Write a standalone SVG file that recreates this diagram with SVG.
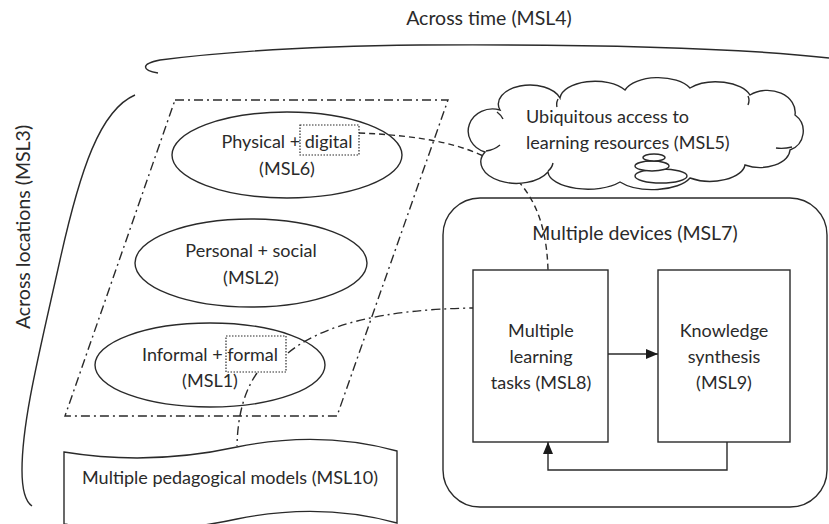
<svg xmlns="http://www.w3.org/2000/svg" width="829" height="524" viewBox="0 0 829 524">
<style>
text{font-family:Lato,"Open Sans","Liberation Sans",sans-serif;font-size:18px;fill:#2a2a2a}
.s{fill:none;stroke:#2a2a2a;stroke-width:1.4}
.w{fill:#fff;stroke:#2a2a2a;stroke-width:1.4}
.dd{fill:none;stroke:#2a2a2a;stroke-width:1.4;stroke-dasharray:9 4 2 4}
.da{fill:none;stroke:#2a2a2a;stroke-width:1.4;stroke-dasharray:6 4}
.dot{fill:none;stroke:#2a2a2a;stroke-width:1.2;stroke-dasharray:1.5 1.5}
</style>
<defs>
<marker id="ah" viewBox="0 0 12 10" refX="12" refY="5" markerWidth="12" markerHeight="10" markerUnits="userSpaceOnUse" orient="auto">
<path d="M0,0 L12,5 L0,10 Z" fill="#1a1a1a"/>
</marker>
</defs>

<g id="across-time">
<path class="s" d="M158,73 C142,70 140,64 160,60 C230,51 320,46 420,45 C600,44 740,48 829,58"/>
<text x="489" y="25" text-anchor="middle" style="font-size:19.5px">Across time (MSL4)</text>
</g>

<g id="across-locations">
<path class="s" d="M135,95 C100,110 80,170 60,260 C40,350 22,420 22,470 C22,492 26,502 32,506"/>
<text transform="translate(30,227) rotate(-90)" text-anchor="middle" style="font-size:19.5px">Across locations (MSL3)</text>
</g>

<g id="msl-group">
<path class="dd" d="M175,100 L448,100 L337,416 L65,416 Z"/>
</g>

<g id="connectors">
<path class="da" d="M359,133 C480,138 545,165 548,270"/>
<path class="dd" d="M288,353 Q340,310 473,308"/>
<path class="dd" d="M257,373 Q238,400 237,446"/>
<path class="s" d="M608,354 L658,354" marker-end="url(#ah)"/>
<path class="s" d="M727,442 L727,470 L548,470 L548,442" marker-end="url(#ah)"/>
</g>

<g id="msl6">
<ellipse class="s" cx="287" cy="155" rx="115" ry="43"/>
<rect class="dot" x="300" y="125" width="59" height="30"/>
<text x="287" y="148" text-anchor="middle">Physical + digital</text>
<text x="287" y="175" text-anchor="middle">(MSL6)</text>
</g>

<g id="msl2">
<ellipse class="s" cx="251" cy="263" rx="116" ry="44"/>
<text x="251" y="257" text-anchor="middle">Personal + social</text>
<text x="251" y="284" text-anchor="middle">(MSL2)</text>
</g>

<g id="msl1">
<ellipse class="s" cx="210" cy="365" rx="115" ry="42"/>
<rect class="dot" x="226" y="336" width="60" height="36"/>
<text x="210" y="361" text-anchor="middle">Informal + formal</text>
<text x="210" y="387" text-anchor="middle">(MSL1)</text>
</g>

<g id="msl5">
<path class="w" d="M485,152 A22 20 0 0 1 500,110 A30 18 0 0 1 560,98 A35 18 0 0 1 625,90 A35 18 0 0 1 690,88 A35 18 0 0 1 750,95 A28 22 0 0 1 795,115 A20 20 0 0 1 790,150 A30 18 0 0 1 745,165 A35 18 0 0 1 690,178 A40 18 0 0 1 620,182 A40 18 0 0 1 548,172 A30 18 0 0 1 485,152 Z"/>
<path class="s" d="M497,112 q4,3 6,7 M558,99 q-2,4 -1,8 M748,96 q2,4 0,9 M792,147 q-8,2 -16,1 M548,171 q4,-3 5,-8 M486,151 q8,-1 14,-6"/>
<ellipse class="w" cx="661" cy="176" rx="26" ry="7"/>
<ellipse class="w" cx="652" cy="166" rx="17" ry="5"/>
<ellipse class="w" cx="654" cy="157.5" rx="11" ry="3.5"/>
<text x="526" y="123">Ubiquitous access to</text>
<text x="526" y="149">learning resources (MSL5)</text>
</g>

<g id="msl7">
<rect class="s" x="443" y="198" width="384" height="309" rx="37"/>
<text x="635" y="240" text-anchor="middle" style="font-size:19.5px">Multiple devices (MSL7)</text>
</g>

<g id="msl8">
<rect class="s" x="473" y="270" width="135" height="172"/>
<text x="541" y="337" text-anchor="middle">Multiple</text>
<text x="541" y="363" text-anchor="middle">learning</text>
<text x="541" y="389" text-anchor="middle">tasks (MSL8)</text>
</g>

<g id="msl9">
<rect class="s" x="658" y="270" width="132" height="172"/>
<text x="724" y="337" text-anchor="middle">Knowledge</text>
<text x="724" y="363" text-anchor="middle">synthesis</text>
<text x="724" y="389" text-anchor="middle">(MSL9)</text>
</g>

<g id="msl10">
<path class="w" d="M64,452 Q150,466 237,447 Q320,430 397,451 L397,523 Q320,502 237,519 Q150,538 64,524 Z"/>
<text x="230" y="484" text-anchor="middle">Multiple pedagogical models (MSL10)</text>
</g>
</svg>
